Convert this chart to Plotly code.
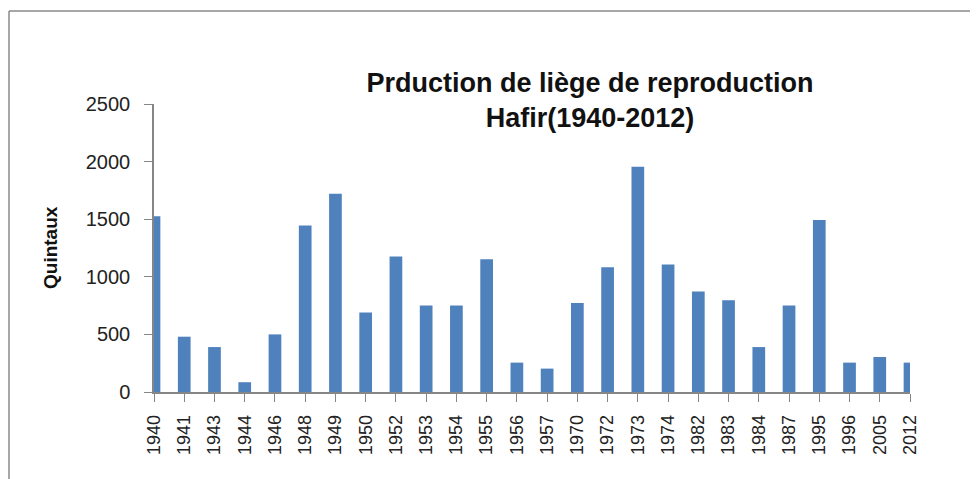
import plotly.graph_objects as go

# Data
years = ['1940', '1941', '1943', '1944', '1946', '1948', '1949', '1950', '1952',
         '1953', '1954', '1955', '1956', '1957', '1970', '1972', '1973', '1974',
         '1982', '1983', '1984', '1987', '1995', '1996', '2005', '2012']
quintaux = [1525, 480, 390, 85, 500, 1445, 1720, 690, 1177,
            750, 750, 1153, 255, 203, 773, 1083, 1955, 1107,
            872, 797, 390, 750, 1492, 255, 304, 255]

# the page body has an 8px margin, so the figure is offset by 8px
OFF = 8
W, H = 978 - OFF, 479 - OFF
ml, mt = 154 - OFF, 104 - OFF
mr = W - (910 - OFF)
mb = H - (392 - OFF)
pw, ph = W - ml - mr, H - mt - mb

def px_x(px):
    # page pixel -> paper x
    return (px - OFF - ml) / pw

def px_y(py):
    # page pixel -> paper y
    return (mt + ph - (py - OFF)) / ph

fig = go.Figure()
fig.add_trace(go.Bar(
    x=years,
    y=quintaux,
    width=0.42,
    marker_color='#4F81BD',
    marker_line=dict(width=0),
))

axis_col = '#868686'
fig.update_layout(
    width=W, height=H,
    margin=dict(l=ml, r=mr, t=mt, b=mb),
    paper_bgcolor='white',
    plot_bgcolor='white',
    showlegend=False,
    font=dict(family='Liberation Sans, Arial, sans-serif', color='#222222'),
    title=dict(
        text='<b>Prduction de liège de reproduction<br>Hafir(1940-2012)</b>',
        x=(590 - OFF) / W, xanchor='center',
        y=1 - 84 / H, yanchor='top',
        font=dict(size=27, color='#111111'),
    ),
    xaxis=dict(
        type='category',
        range=[0, len(years) - 1],
        showline=True, linecolor=axis_col, linewidth=1.5,
        ticks='outside', ticklen=8, tickcolor=axis_col,
        tickangle=-90,
        ticklabelstandoff=6,
        tickfont=dict(size=18, color='#222222'),
        showgrid=False,
    ),
    yaxis=dict(
        range=[0, 2500],
        tickvals=[0, 500, 1000, 1500, 2000, 2500],
        showline=True, linecolor=axis_col, linewidth=1.5,
        ticks='outside', ticklen=8, tickcolor=axis_col,
        ticklabelstandoff=10,
        tickfont=dict(size=20, color='#222222'),
        showgrid=False, zeroline=False,
    ),
    annotations=[dict(
        text='<b>Quintaux</b>',
        xref='paper', yref='paper',
        x=px_x(50), y=0.5,
        xanchor='center', yanchor='middle',
        textangle=-90, showarrow=False,
        font=dict(size=19, color='#111111'),
    )],
    shapes=[
        dict(type='line', xref='paper', yref='paper',
             x0=px_x(9), x1=px_x(9), y0=px_y(11), y1=px_y(490),
             line=dict(color='#8a8a8a', width=1.5)),
        dict(type='line', xref='paper', yref='paper',
             x0=px_x(9), x1=px_x(990), y0=px_y(11), y1=px_y(11),
             line=dict(color='#8a8a8a', width=1.5)),
    ],
)

fig.write_html('out.html')
